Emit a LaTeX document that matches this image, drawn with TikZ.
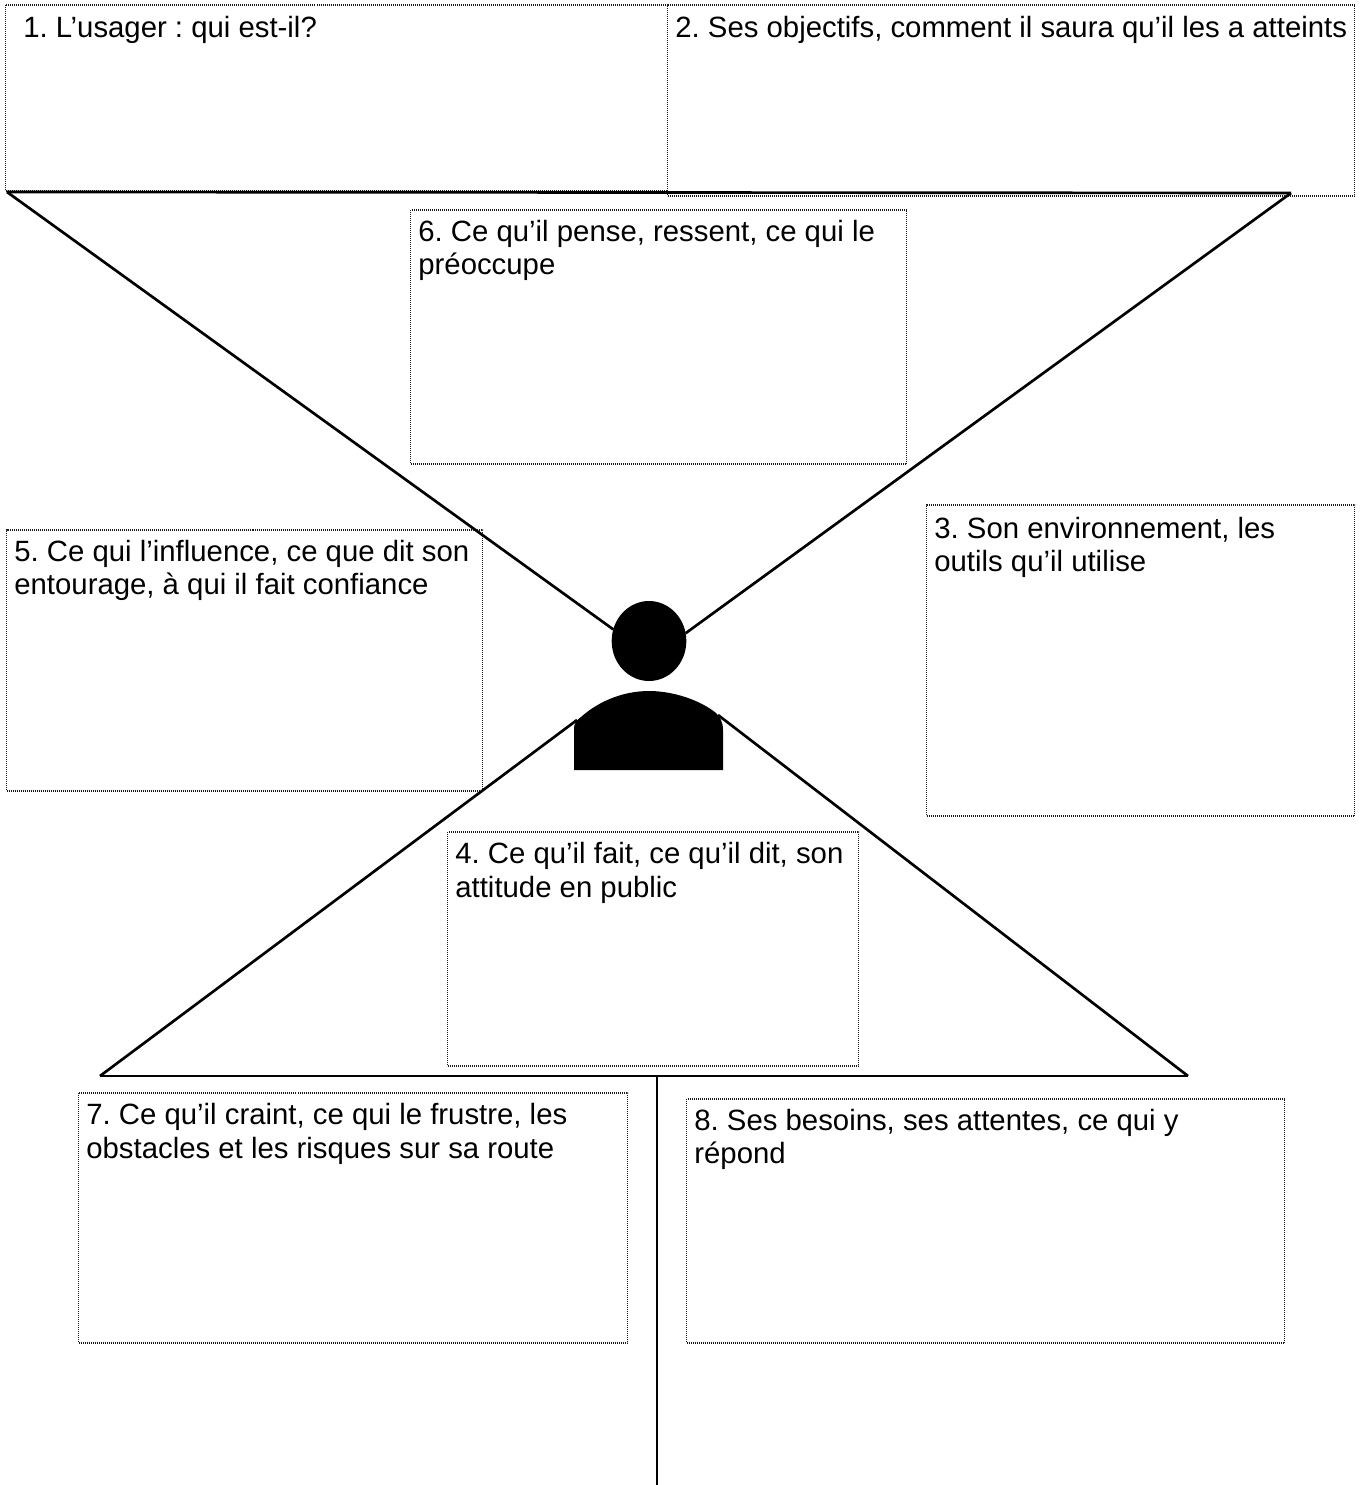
\documentclass[tikz,border=0pt]{standalone}
\usepackage{fontspec}
\setmainfont[Ligatures=NoCommon]{Liberation Sans}
\usetikzlibrary{shapes,positioning}

\begin{document}
\frenchspacing
\begin{tikzpicture}[x=0.75pt,y=-0.75pt]
        \tikzstyle{every path}=[line width=2pt]

        \tikzstyle{zone}=[draw=black!90,line width=0.9pt,dash pattern=on 0.75pt off 0.75pt,anchor=north west,inner sep=0pt,outer sep=0pt]
        \tikzstyle{txt}=[anchor=north west,inner sep=0pt,align=left,font=\fontsize{22}{25}\selectfont]

        \useasboundingbox (0,0) rectangle (1365,1485);

        %the boxes
        \foreach \name/\x/\y/\w/\h in {one/5.5/5/662/186, two/667.5/5/687/191, six/410.5/210/496/254, three/926.5/505/428/311, five/6.5/530/476/261, four/447.5/832/411/234, seven/78.5/1093/549/250, eight/686.5/1099/598/244} {
            \node [zone,minimum width=\w*0.75pt,minimum height=\h*0.75pt] at (\x,\y) (\name) {};
        };

        %label the boxes
        \node [txt,xshift=12.4pt,yshift=-7.5pt] at (one.north west) (one_label) {1. L’usager : qui est-il?};
        \node [txt,xshift=4.9pt,yshift=-7.5pt] at (two.north west) (two_label) {2. Ses objectifs, comment il saura qu’il les a atteints};
        \node [txt,xshift=4.9pt,yshift=-6.75pt] at (six.north west) (six_label) {6. Ce qu’il pense, ressent, ce qui le\\préoccupe};
        \node [txt,xshift=4.9pt,yshift=-8pt] at (three.north west) (three_label) {3. Son environnement, les\\outils qu’il utilise};
        \node [txt,xshift=4.9pt,yshift=-6.6pt] at (five.north west) (five_label) {5. Ce qui l’influence, ce que dit son\\entourage, à qui il fait confiance};
        \node [txt,xshift=4.9pt,yshift=-7pt] at (four.north west) (four_label) {4. Ce qu’il fait, ce qu’il dit, son\\attitude en public};
        \node [txt,xshift=4.9pt,yshift=-7pt] at (seven.north west) (seven_label) {7. Ce qu’il craint, ce qui le frustre, les\\obstacles et les risques sur sa route};
        \node [txt,xshift=4.9pt,yshift=-6.75pt] at (eight.north west) (eight_label) {8. Ses besoins, ses attentes, ce qui y\\répond};

        %the person
        \node [ellipse,fill=black,inner sep=0pt,outer sep=0pt,minimum width=56pt,minimum height=60pt] at (649,641) (head) {};
        \fill (574,770) -- (574,730) .. controls (574,722) and (577,720) .. (581,717) .. controls (600,700) and (625,691) .. (649,691) .. controls (673,691) and (700,700) .. (716,713) .. controls (720,717) and (723,722) .. (723,730) -- (723,770) -- cycle;

        \coordinate (topleft) at (7,192);
        \coordinate (topright) at (1291,193);
        \coordinate (lowleft) at (100,1076);
        \coordinate (lowright) at (1188,1076);
        \coordinate (stem) at (657,1076);
        \coordinate (stemend) at (657,1485);
        \coordinate (armleft) at (577,720);
        \coordinate (armright) at (718,715);

        \draw (topleft) -- (topright);
        \draw (topleft) -- (head.162);
        \draw (topright) -- (head.12);
        \draw (lowleft) -- (armleft);
        \draw (lowright) -- (armright);
        \draw (lowleft) -- (lowright);
        \draw (stem) -- (stemend);
\end{tikzpicture}
\end{document}
